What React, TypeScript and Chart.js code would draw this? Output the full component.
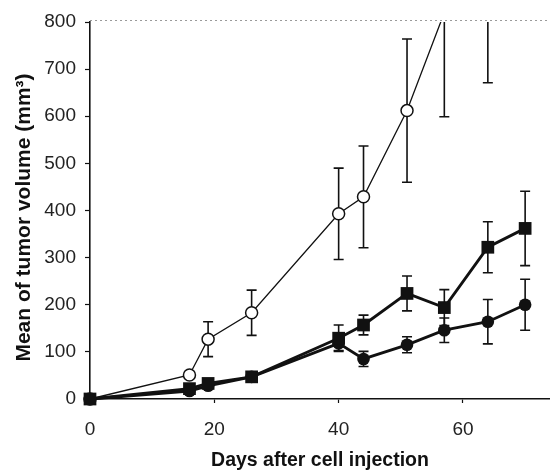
import React, { useEffect, useRef } from 'react';
import { Chart, registerables } from 'chart.js';

Chart.register(...registerables);

// Days after cell injection
const days = [0, 16, 19, 26, 40, 44, 51, 57, 64, 70];
// Open circles (control)
const openMean = [0, 51, 127, 183, 393, 429, 612, 820, 940, 1150];
const openErr = [0, 5, 37, 48, 97, 108, 152, 221, 269, 250];
// Filled squares
const squareMean = [0, 22, 33, 47, 129, 157, 224, 194, 322, 362];
const squareErr = [0, 4, 5, 5, 28, 21, 37, 38, 54, 79];
// Filled circles
const circleMean = [0, 17, 28, 47, 118, 85, 115, 146, 164, 200];
const circleErr = [0, 3, 4, 5, 15, 16, 17, 26, 47, 54];

const xTickValues = [0, 20, 40, 60];
const yMin = 0;
const yMax = 800;
const xMin = 0;
const xMax = 74;
const xTitle = 'Days after cell injection';
const yTitle = 'Mean of tumor volume (mm³)';

const FONT = '"Liberation Sans", Arial, Helvetica, sans-serif';

const errorBarPlugin = {
  id: 'errorBars',
  beforeDatasetsDraw(chart: any) {
    const { ctx, chartArea, scales } = chart;
    const xs = scales.x;
    const ys = scales.y;
    ctx.save();
    // faint dotted top line at 800
    ctx.strokeStyle = '#9a9a9a';
    ctx.lineWidth = 1;
    ctx.setLineDash([2, 3]);
    ctx.beginPath();
    const yTop = ys.getPixelForValue(yMax) - 1.5;
    ctx.moveTo(chartArea.left, yTop);
    ctx.lineTo(chartArea.right, yTop);
    ctx.stroke();
    ctx.setLineDash([]);

    ctx.beginPath();
    ctx.rect(chartArea.left - 12, chartArea.top, chartArea.right - chartArea.left + 12, chartArea.bottom - chartArea.top + 12);
    ctx.clip();
    ctx.strokeStyle = '#111';
    ctx.lineWidth = 1.6;
    chart.data.datasets.forEach((ds: any) => {
      const errs: number[] = ds.errors;
      ds.data.forEach((p: any, i: number) => {
        const e = errs[i];
        if (!e) return;
        const x = xs.getPixelForValue(p.x);
        const y1 = ys.getPixelForValue(p.y + e);
        const y2 = ys.getPixelForValue(p.y - e);
        ctx.beginPath();
        ctx.moveTo(x, y1);
        ctx.lineTo(x, y2);
        ctx.moveTo(x - 5, y1);
        ctx.lineTo(x + 5, y1);
        ctx.moveTo(x - 5, y2);
        ctx.lineTo(x + 5, y2);
        ctx.stroke();
      });
    });
    ctx.restore();
  },
};

const yTitlePlugin = {
  id: 'yTitle',
  afterDraw(chart: any) {
    const { ctx, chartArea } = chart;
    ctx.save();
    ctx.translate(24, (chartArea.top + chartArea.bottom) / 2 + 7);
    ctx.rotate(-Math.PI / 2);
    ctx.font = 'bold 21px ' + FONT;
    ctx.fillStyle = '#111';
    ctx.textAlign = 'center';
    ctx.textBaseline = 'middle';
    ctx.fillText(yTitle, 0, 0);
    ctx.restore();
  },
};

export default function App() {
  const ref = useRef<HTMLCanvasElement | null>(null);
  useEffect(() => {
    if (!ref.current) return;
    const toPts = (m: number[]) => days.map((d, i) => ({ x: d, y: m[i] }));
    const clip = { left: 12, top: 0, right: 0, bottom: 12 };
    const chart = new Chart(ref.current, {
      type: 'line',
      data: {
        datasets: [
          {
            label: 'squares',
            data: toPts(squareMean),
            errors: squareErr,
            borderColor: '#111',
            backgroundColor: '#111',
            borderWidth: 2.9,
            pointStyle: 'rect',
            pointRadius: 9,
            pointBorderWidth: 0,
            pointBackgroundColor: '#111',
            clip,
          } as any,
          {
            label: 'filled circles',
            data: toPts(circleMean),
            errors: circleErr,
            borderColor: '#111',
            backgroundColor: '#111',
            borderWidth: 2.9,
            pointStyle: 'circle',
            pointRadius: 6.3,
            pointBorderWidth: 0,
            pointBackgroundColor: '#111',
            clip,
          } as any,
          {
            label: 'open circles',
            data: toPts(openMean),
            errors: openErr,
            borderColor: '#111',
            backgroundColor: '#fff',
            borderWidth: 1.3,
            pointStyle: 'circle',
            pointRadius: 6,
            pointBorderWidth: 1.5,
            pointBorderColor: '#111',
            pointBackgroundColor: '#fff',
            clip,
          } as any,
        ],
      },
      options: {
        animation: false,
        responsive: false,
        devicePixelRatio: 1,
        layout: { autoPadding: false, padding: { top: 22, right: 0, left: 0, bottom: 0 } },
        plugins: {
          legend: { display: false },
          tooltip: { enabled: false },
        },
        elements: { line: { tension: 0 } },
        scales: {
          x: {
            type: 'linear',
            min: xMin,
            max: xMax,
            afterBuildTicks: (scale: any) => {
              scale.ticks = xTickValues.map((v) => ({ value: v }));
            },
            afterFit: (scale: any) => {
              scale.height = 72;
              scale.paddingRight = 0;
              scale.paddingLeft = 0;
            },
            ticks: {
              color: '#222',
              font: { family: FONT, size: 19 },
              padding: 15,
              maxRotation: 0,
            },
            grid: {
              drawOnChartArea: false,
              drawTicks: true,
              tickLength: 4,
              tickColor: '#111',
              tickWidth: 1.2,
            },
            border: { display: true, color: '#111', width: 1.6 },
            title: {
              display: true,
              text: xTitle,
              color: '#111',
              font: { family: FONT, size: 19.5, weight: 'bold', lineHeight: 1 },
              padding: { top: 0, bottom: 1 },
            },
          },
          y: {
            type: 'linear',
            min: yMin,
            max: yMax,
            afterFit: (scale: any) => {
              scale.width = 90;
              scale.paddingTop = 0;
              scale.paddingBottom = 0;
            },
            ticks: {
              stepSize: 100,
              color: '#222',
              font: { family: FONT, size: 19 },
              padding: 9,
            },
            grid: {
              color: 'rgba(0,0,0,0)',
              drawTicks: true,
              tickLength: 5,
              tickColor: '#111',
              tickWidth: 1.2,
            },
            border: { display: true, color: '#111', width: 1.6 },
            title: { display: false },
          },
        },
      } as any,
      plugins: [errorBarPlugin, yTitlePlugin],
    });
    return () => chart.destroy();
  }, []);

  return (
    <div style={{ position: 'fixed', left: 0, top: 0, width: 550, height: 471, background: '#fff' }}>
      <canvas ref={ref} width={550} height={471} style={{ width: 550, height: 471, display: 'block' }} />
    </div>
  );
}
